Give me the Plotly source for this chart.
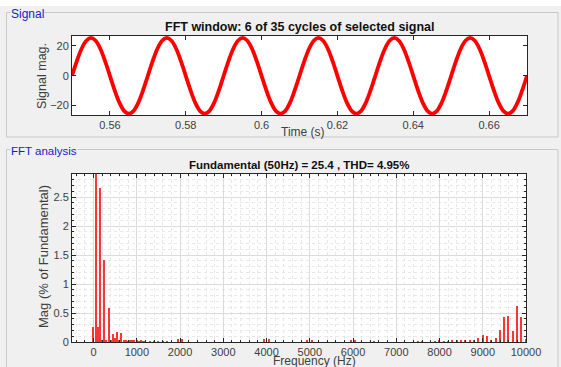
import plotly.graph_objects as go

W, H = 561, 367

# ---- data ----
sig_t0 = 0.55
sig_dt = 0.00125
signal_vals = [
    0, 9.7, 18.0, 23.5, 25.4, 23.5, 18.0, 9.7, 0, -9.7, -18.0, -23.5, -25.4, -23.5, -18.0, -9.7,
    0, 9.7, 18.0, 23.5, 25.4, 23.5, 18.0, 9.7, 0, -9.7, -18.0, -23.5, -25.4, -23.5, -18.0, -9.7,
    0, 9.7, 18.0, 23.5, 25.4, 23.5, 18.0, 9.7, 0, -9.7, -18.0, -23.5, -25.4, -23.5, -18.0, -9.7,
    0, 9.7, 18.0, 23.5, 25.4, 23.5, 18.0, 9.7, 0, -9.7, -18.0, -23.5, -25.4, -23.5, -18.0, -9.7,
    0, 9.7, 18.0, 23.5, 25.4, 23.5, 18.0, 9.7, 0, -9.7, -18.0, -23.5, -25.4, -23.5, -18.0, -9.7,
    0, 9.7, 18.0, 23.5, 25.4, 23.5, 18.0, 9.7, 0, -9.7, -18.0, -23.5, -25.4, -23.5, -18.0, -9.7,
    0,
]
sig_time = [sig_t0 + i * sig_dt for i in range(len(signal_vals))]

freq_hz = [0, 50, 100, 150, 200, 250, 300, 350, 400, 450, 500, 550, 600, 650, 700,
           750, 800, 850, 900, 950, 1000, 1050, 1100, 1150, 1200, 1300, 1400, 1500,
           1600, 1700, 1950, 2050, 3950, 4050, 4950, 5050, 5950, 6050, 6500, 7500,
           7600, 7900, 8000, 8100, 8200, 8300, 8400,
           8500, 8600, 8700, 8800, 8900, 9000, 9100, 9200, 9300, 9400, 9500, 9600,
           9700, 9800, 9900, 10000]
mag_pct = [0.26, 100, 0.26, 2.65, 0.03, 1.42, 0.03, 0.58, 0.02, 0.13, 0.07, 0.17, 0.02, 0.15, 0.02,
           0.02, 0.01, 0.02, 0.02, 0.02, 0.02, 0.01, 0.02, 0.01, 0.01, 0.01, 0.01, 0.01,
           0.01, 0.01, 0.06, 0.06, 0.06, 0.06, 0.02, 0.02, 0.03, 0.02, 0.01, 0.01,
           0.01, 0.01, 0.02, 0.01, 0.01, 0.02, 0.02,
           0.04, 0.04, 0.02, 0.02, 0.07, 0.12, 0.10, 0.04, 0.07, 0.20, 0.43, 0.45,
           0.19, 0.63, 0.43, 0.05]

top_xticks = [0.56, 0.58, 0.60, 0.62, 0.64, 0.66]
top_xlabels = ["0.56", "0.58", "0.6", "0.62", "0.64", "0.66"]
top_yticks = [-20, 0, 20]
bot_xticks = [0, 1000, 2000, 3000, 4000, 5000, 6000, 7000, 8000, 9000, 10000]
bot_xlabels = ["0", "1000", "2000", "3000", "4000", "5000", "6000", "7000", "8000", "9000", "10000"]
bot_yticks = [0, 0.5, 1, 1.5, 2, 2.5]
bot_ylabels = ["0", "0.5", "1", "1.5", "2", "2.5"]


def fx(p):
    return p / W


def fy(p):
    return 1 - p / H


FONT = "Liberation Sans, Arial, sans-serif"
TICKC = "#404040"

fig = go.Figure()
fig.add_trace(go.Scatter(x=sig_time, y=signal_vals, mode="lines",
                         line=dict(color="#ff0000", width=3.8, shape="spline"),
                         xaxis="x", yaxis="y", showlegend=False, hoverinfo="skip"))
fig.add_trace(go.Bar(x=freq_hz, y=mag_pct, width=34,
                     marker=dict(color="#ff3535", line=dict(width=0)),
                     xaxis="x2", yaxis="y2", showlegend=False, hoverinfo="skip"))

axis_common = dict(showline=True, linecolor="#262626", linewidth=1, mirror="ticks",
                   ticks="inside", ticklen=4, tickcolor="#262626", automargin=False,
                   tickfont=dict(family=FONT, size=11, color=TICKC), zeroline=False)

fig.update_layout(
    width=W, height=H,
    margin=dict(l=0, r=0, t=0, b=0),
    paper_bgcolor="#f0f0f0",
    plot_bgcolor="#ffffff",
    font=dict(family=FONT),
    bargap=0,
    xaxis=dict(domain=[fx(72), fx(527)], range=[0.55, 0.67], tickvals=top_xticks,
               ticktext=top_xlabels, showgrid=False, anchor="y", **axis_common),
    yaxis=dict(domain=[fy(115), fy(36)], range=[-26.3, 26.7], tickvals=top_yticks,
               showgrid=False, anchor="x", **axis_common),
    xaxis2=dict(domain=[fx(72), fx(526)], range=[-500, 10000], tickvals=bot_xticks,
                ticktext=bot_xlabels,
                showgrid=True, gridcolor="#dcdcdc", gridwidth=1, anchor="y2",
                minor=dict(dtick=200, showgrid=True, gridcolor="#e8e8e8", griddash="dot",
                           ticks="inside", ticklen=2, tickcolor="#262626"),
                **axis_common),
    yaxis2=dict(domain=[fy(342), fy(174)], range=[0, 2.9], tickvals=bot_yticks,
                ticktext=bot_ylabels,
                showgrid=True, gridcolor="#dcdcdc", gridwidth=1, anchor="x2",
                minor=dict(dtick=0.1, showgrid=True, gridcolor="#e8e8e8", griddash="dot",
                           ticks="inside", ticklen=2, tickcolor="#262626"),
                **axis_common),
)

shapes = [
    dict(type="rect", xref="paper", yref="paper", x0=0, x1=1, y0=fy(6), y1=1,
         fillcolor="#ffffff", line=dict(width=0), layer="below"),
    dict(type="rect", xref="paper", yref="paper", x0=fx(6.5), x1=fx(558), y0=fy(137), y1=fy(12.5),
         line=dict(color="#c8c8c8", width=1), fillcolor="rgba(0,0,0,0)", layer="below"),
    dict(type="rect", xref="paper", yref="paper", x0=fx(6.5), x1=fx(558), y0=fy(372), y1=fy(149.5),
         line=dict(color="#c8c8c8", width=1), fillcolor="rgba(0,0,0,0)", layer="below"),
]
fig.update_layout(shapes=shapes)

ann = []


def add_text(text, x, y, size=11, color="#262626", bold=False, angle=0, bg=None,
             xanchor="center"):
    d = dict(text=f"<b>{text}</b>" if bold else text, x=fx(x), y=fy(y), xref="paper",
             yref="paper", showarrow=False, xanchor=xanchor, yanchor="middle",
             font=dict(family=FONT, size=size, color=color), textangle=angle)
    if bg:
        d["bgcolor"] = bg
        d["borderpad"] = 0
    ann.append(d)


add_text("Signal", 10, 13.5, size=12, color="#1a1acc", bg="#f0f0f0", xanchor="left")
add_text("FFT analysis", 10, 151, size=11.5, color="#1a1acc", bg="#f0f0f0", xanchor="left")
add_text("FFT window: 6 of 35 cycles of selected signal", 300, 26.5, size=12.5, color="#111111", bold=True)
add_text("Fundamental (50Hz) = 25.4 , THD= 4.95%", 299, 165, size=11.5, color="#111111", bold=True)
add_text("Signal mag.", 42, 76, size=12.5, color=TICKC, angle=-90)
add_text("Mag (% of Fundamental)", 43, 257, size=13, color=TICKC, angle=-90)
add_text("Time (s)", 303, 132, size=12, color=TICKC)
add_text("Frequency (Hz)", 314, 361, size=12, color=TICKC)
fig.update_layout(annotations=ann)

post = "document.body.style.margin='0';document.body.style.overflow='hidden';"
fig.write_html("out.html", post_script=post, config={"displayModeBar": False})
